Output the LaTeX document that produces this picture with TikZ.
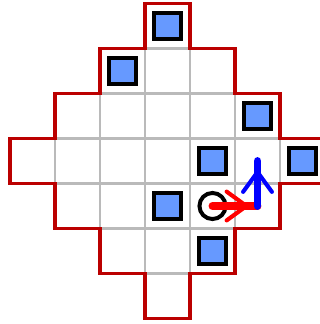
\documentclass[tikz,border=0pt]{standalone}
\usepackage{tikz}
\usetikzlibrary{arrows.meta, decorations.markings}
\definecolor{wallred}{HTML}{BB0000}
\definecolor{crateblue}{HTML}{6699FF}
\colorlet{gridgray}{black!27}
\tikzset{
  gridline/.style={draw=gridgray, line width=1.3pt},
  wall/.style={draw=wallred, line width=2.4pt, line join=miter},
  crate/.style={draw=black, fill=crateblue, line width=2.5pt, minimum size=0.59cm, inner sep=0pt},
  robot/.style={circle, draw=black, line width=2.5pt, minimum size=0.58cm, inner sep=0pt},
  move/.style={line width=5pt, line cap=round, postaction={decorate},
    decoration={markings, mark=at position -0.2cm with {\arrow{Straight Barb[length=0.44cm, width=0.64cm, line width=2.6pt, round]}}}},
}
\newcommand{\crate}[3]{%
  \node[crate] (#1) at (#2+0.5,#3+0.5) {};%
}

\begin{document}
\begin{tikzpicture}
  \useasboundingbox (-0.222,-0.122) rectangle (6.889,7.078);
  % floor cells, row by row
  \foreach \y/\a/\b in {6/3/3, 5/2/4, 4/1/5, 3/0/6, 2/1/5, 1/2/4, 0/3/3} {
    \foreach \x in {\a,...,\b} {
      \draw[gridline] (\x,\y) rectangle ++(1,1);
    }
  }
  % outer wall
  \draw[wall] (3,7) -| (4,6) -| (5,5) -| (6,4) -| (7,3) -| (6,2) -| (5,1) -| (4,0)
    -| (3,1) -| (2,2) -| (1,3) -| (0,4) -| (1,5) -| (2,6) -- (3,6) -- cycle;

  % crates
  \crate{top}{3}{6}
  \crate{upleft}{2}{5}
  \crate{upright}{5}{4}
  \crate{mid}{4}{3}
  \crate{east}{6}{3}
  \crate{low}{3}{2}
  \crate{bottom}{4}{1}

  % robot and its moves
  \node[robot] (robot) at (4.5,2.5) {};
  \coordinate (turn) at (5.5,2.5);
  \coordinate (goal) at (5.5,3.5);
  \draw[move, red] (robot.center) -- (turn);
  \draw[move, blue] (turn) -- (goal);
\end{tikzpicture}
\end{document}
